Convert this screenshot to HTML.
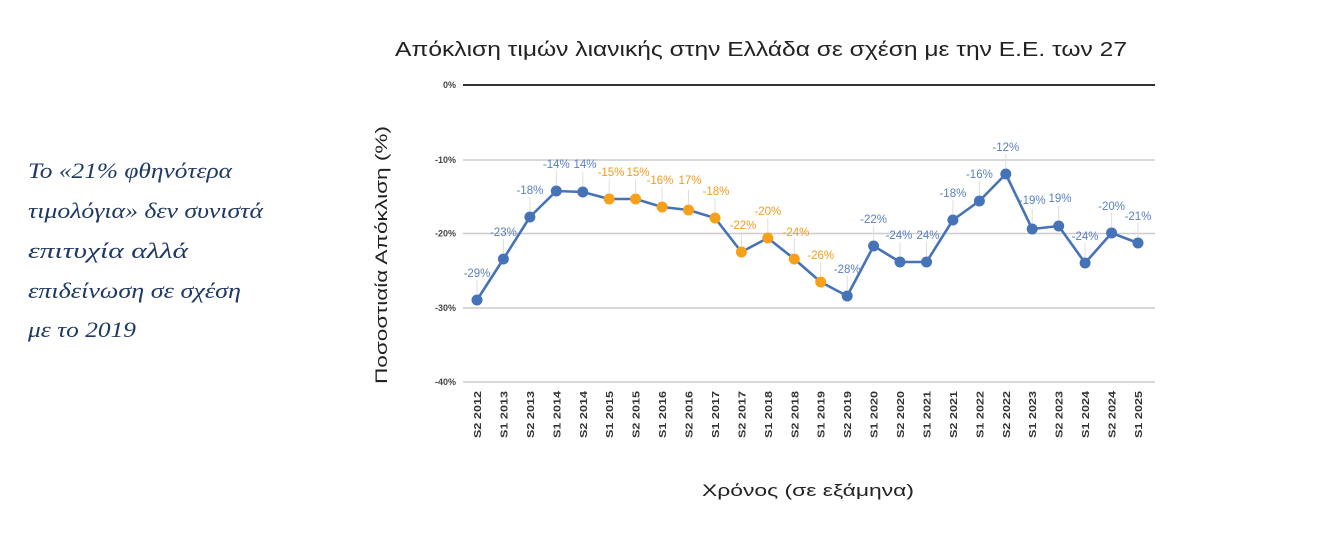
<!DOCTYPE html>
<html>
<head>
<meta charset="utf-8">
<style>
html,body{margin:0;padding:0;background:#fff;}
svg{display:block;}
</style>
</head>
<body>
<svg width="1320" height="534" viewBox="0 0 1320 534" xmlns="http://www.w3.org/2000/svg">
<rect width="1320" height="534" fill="#fff"/>

<!-- Left commentary text -->
<g font-family="'Liberation Serif','DejaVu Serif',serif" font-style="italic" font-size="22" fill="#1f3864">
  <text x="28" y="178" textLength="204" lengthAdjust="spacingAndGlyphs">Το «21% φθηνότερα</text>
  <text x="28" y="218" textLength="235" lengthAdjust="spacingAndGlyphs">τιμολόγια» δεν συνιστά</text>
  <text x="28" y="258" textLength="160" lengthAdjust="spacingAndGlyphs">επιτυχία αλλά</text>
  <text x="28" y="298" textLength="213" lengthAdjust="spacingAndGlyphs">επιδείνωση σε σχέση</text>
  <text x="28" y="337" textLength="108" lengthAdjust="spacingAndGlyphs">με το 2019</text>
</g>

<!-- Title -->
<text x="761" y="56" text-anchor="middle" font-family="'Liberation Sans','DejaVu Sans',sans-serif" font-size="20" fill="#222" textLength="732" lengthAdjust="spacingAndGlyphs">Απόκλιση τιμών λιανικής στην Ελλάδα σε σχέση με την Ε.Ε. των 27</text>

<!-- Gridlines -->
<g stroke="#cccccc" stroke-width="1.5">
  <line x1="463" y1="160" x2="1155" y2="160"/>
  <line x1="463" y1="233.5" x2="1155" y2="233.5"/>
  <line x1="463" y1="308" x2="1155" y2="308"/>
  <line x1="463" y1="382" x2="1155" y2="382"/>
</g>
<line x1="463" y1="85" x2="1155" y2="85" stroke="#333" stroke-width="2"/>

<!-- Y tick labels -->
<g font-family="'Liberation Sans','DejaVu Sans',sans-serif" font-size="9" fill="#444" text-anchor="end" font-weight="bold">
  <text x="456" y="88">0%</text>
  <text x="456" y="163">-10%</text>
  <text x="456" y="236.5">-20%</text>
  <text x="456" y="311">-30%</text>
  <text x="456" y="385">-40%</text>
</g>

<!-- Y axis title -->
<text transform="translate(387,255) rotate(-90)" text-anchor="middle" font-family="'Liberation Sans','DejaVu Sans',sans-serif" font-size="17" fill="#222" textLength="258" lengthAdjust="spacingAndGlyphs">Ποσοστιαία Απόκλιση (%)</text>

<!-- X axis title -->
<text x="808" y="496" text-anchor="middle" font-family="'Liberation Sans','DejaVu Sans',sans-serif" font-size="17" fill="#222" textLength="212" lengthAdjust="spacingAndGlyphs">Χρόνος (σε εξάμηνα)</text>

<!-- X tick labels (rotated) -->
<g font-family="'Liberation Sans','DejaVu Sans',sans-serif" font-size="10" fill="#333" font-weight="bold">
  <text transform="translate(481,438) rotate(-90)" textLength="47" lengthAdjust="spacingAndGlyphs">S2 2012</text>
  <text transform="translate(507.4,438) rotate(-90)" textLength="47" lengthAdjust="spacingAndGlyphs">S1 2013</text>
  <text transform="translate(533.9,438) rotate(-90)" textLength="47" lengthAdjust="spacingAndGlyphs">S2 2013</text>
  <text transform="translate(560.3,438) rotate(-90)" textLength="47" lengthAdjust="spacingAndGlyphs">S1 2014</text>
  <text transform="translate(586.8,438) rotate(-90)" textLength="47" lengthAdjust="spacingAndGlyphs">S2 2014</text>
  <text transform="translate(613.2,438) rotate(-90)" textLength="47" lengthAdjust="spacingAndGlyphs">S1 2015</text>
  <text transform="translate(639.6,438) rotate(-90)" textLength="47" lengthAdjust="spacingAndGlyphs">S2 2015</text>
  <text transform="translate(666.1,438) rotate(-90)" textLength="47" lengthAdjust="spacingAndGlyphs">S1 2016</text>
  <text transform="translate(692.5,438) rotate(-90)" textLength="47" lengthAdjust="spacingAndGlyphs">S2 2016</text>
  <text transform="translate(719,438) rotate(-90)" textLength="47" lengthAdjust="spacingAndGlyphs">S1 2017</text>
  <text transform="translate(745.4,438) rotate(-90)" textLength="47" lengthAdjust="spacingAndGlyphs">S2 2017</text>
  <text transform="translate(771.8,438) rotate(-90)" textLength="47" lengthAdjust="spacingAndGlyphs">S1 2018</text>
  <text transform="translate(798.3,438) rotate(-90)" textLength="47" lengthAdjust="spacingAndGlyphs">S2 2018</text>
  <text transform="translate(824.7,438) rotate(-90)" textLength="47" lengthAdjust="spacingAndGlyphs">S1 2019</text>
  <text transform="translate(851.2,438) rotate(-90)" textLength="47" lengthAdjust="spacingAndGlyphs">S2 2019</text>
  <text transform="translate(877.6,438) rotate(-90)" textLength="47" lengthAdjust="spacingAndGlyphs">S1 2020</text>
  <text transform="translate(904,438) rotate(-90)" textLength="47" lengthAdjust="spacingAndGlyphs">S2 2020</text>
  <text transform="translate(930.5,438) rotate(-90)" textLength="47" lengthAdjust="spacingAndGlyphs">S1 2021</text>
  <text transform="translate(956.9,438) rotate(-90)" textLength="47" lengthAdjust="spacingAndGlyphs">S2 2021</text>
  <text transform="translate(983.4,438) rotate(-90)" textLength="47" lengthAdjust="spacingAndGlyphs">S1 2022</text>
  <text transform="translate(1009.8,438) rotate(-90)" textLength="47" lengthAdjust="spacingAndGlyphs">S2 2022</text>
  <text transform="translate(1036.2,438) rotate(-90)" textLength="47" lengthAdjust="spacingAndGlyphs">S1 2023</text>
  <text transform="translate(1062.7,438) rotate(-90)" textLength="47" lengthAdjust="spacingAndGlyphs">S2 2023</text>
  <text transform="translate(1089.1,438) rotate(-90)" textLength="47" lengthAdjust="spacingAndGlyphs">S1 2024</text>
  <text transform="translate(1115.6,438) rotate(-90)" textLength="47" lengthAdjust="spacingAndGlyphs">S2 2024</text>
  <text transform="translate(1142,438) rotate(-90)" textLength="47" lengthAdjust="spacingAndGlyphs">S1 2025</text>
</g>

<!-- Leader lines -->
<g stroke="#dedede" stroke-width="1">
  <line x1="477" y1="280" x2="477" y2="294"/>
  <line x1="503.4" y1="239" x2="503.4" y2="253"/>
  <line x1="529.9" y1="197" x2="529.9" y2="211"/>
  <line x1="556.3" y1="171" x2="556.3" y2="185"/>
  <line x1="582.8" y1="172" x2="582.8" y2="186"/>
  <line x1="609.2" y1="179" x2="609.2" y2="193"/>
  <line x1="635.6" y1="179" x2="635.6" y2="193"/>
  <line x1="662.1" y1="187" x2="662.1" y2="201"/>
  <line x1="688.5" y1="190" x2="688.5" y2="204"/>
  <line x1="715" y1="198" x2="715" y2="212"/>
  <line x1="741.4" y1="232" x2="741.4" y2="246"/>
  <line x1="767.8" y1="218" x2="767.8" y2="232"/>
  <line x1="794.3" y1="239" x2="794.3" y2="253"/>
  <line x1="820.7" y1="262" x2="820.7" y2="276"/>
  <line x1="847.2" y1="276" x2="847.2" y2="290"/>
  <line x1="873.6" y1="226" x2="873.6" y2="240"/>
  <line x1="900" y1="242" x2="900" y2="256"/>
  <line x1="926.5" y1="242" x2="926.5" y2="256"/>
  <line x1="952.9" y1="200" x2="952.9" y2="214"/>
  <line x1="979.4" y1="181" x2="979.4" y2="195"/>
  <line x1="1005.8" y1="154" x2="1005.8" y2="168"/>
  <line x1="1032.2" y1="209" x2="1032.2" y2="223"/>
  <line x1="1058.7" y1="206" x2="1058.7" y2="220"/>
  <line x1="1085.1" y1="243" x2="1085.1" y2="257"/>
  <line x1="1111.6" y1="213" x2="1111.6" y2="227"/>
  <line x1="1138" y1="223" x2="1138" y2="237"/>
</g>

<!-- Series line -->
<polyline fill="none" stroke="#4672b8" stroke-width="2.6" stroke-linejoin="round"
  points="477,300 503.4,259 529.9,217 556.3,191 582.8,192 609.2,199 635.6,199 662.1,207 688.5,210 715,218 741.4,252 767.8,238 794.3,259 820.7,282 847.2,296 873.6,246 900,262 926.5,262 952.9,220 979.4,201 1005.8,174 1032.2,229 1058.7,226 1085.1,263 1111.6,233 1138,243"/>

<!-- Points -->
<g fill="#4672b8">
  <circle cx="477" cy="300" r="5.5"/>
  <circle cx="503.4" cy="259" r="5.5"/>
  <circle cx="529.9" cy="217" r="5.5"/>
  <circle cx="556.3" cy="191" r="5.5"/>
  <circle cx="582.8" cy="192" r="5.5"/>
  <circle cx="847.2" cy="296" r="5.5"/>
  <circle cx="873.6" cy="246" r="5.5"/>
  <circle cx="900" cy="262" r="5.5"/>
  <circle cx="926.5" cy="262" r="5.5"/>
  <circle cx="952.9" cy="220" r="5.5"/>
  <circle cx="979.4" cy="201" r="5.5"/>
  <circle cx="1005.8" cy="174" r="5.5"/>
  <circle cx="1032.2" cy="229" r="5.5"/>
  <circle cx="1058.7" cy="226" r="5.5"/>
  <circle cx="1085.1" cy="263" r="5.5"/>
  <circle cx="1111.6" cy="233" r="5.5"/>
  <circle cx="1138" cy="243" r="5.5"/>
</g>
<g fill="#f7a01a">
  <circle cx="609.2" cy="199" r="5.5"/>
  <circle cx="635.6" cy="199" r="5.5"/>
  <circle cx="662.1" cy="207" r="5.5"/>
  <circle cx="688.5" cy="210" r="5.5"/>
  <circle cx="715" cy="218" r="5.5"/>
  <circle cx="741.4" cy="252" r="5.5"/>
  <circle cx="767.8" cy="238" r="5.5"/>
  <circle cx="794.3" cy="259" r="5.5"/>
  <circle cx="820.7" cy="282" r="5.5"/>
</g>

<!-- Data labels -->
<g font-family="'Liberation Sans','DejaVu Sans',sans-serif" font-size="11.5" text-anchor="middle">
  <g fill="#5a80bf">
    <text x="477" y="277">-29%</text>
    <text x="503.4" y="236">-23%</text>
    <text x="529.9" y="194">-18%</text>
    <text x="556.3" y="168">-14%</text>
    <text x="585" y="168">14%</text>
    <text x="847.2" y="273">-28%</text>
    <text x="873.6" y="223">-22%</text>
    <text x="899" y="239">-24%</text>
    <text x="928" y="239">24%</text>
    <text x="952.9" y="197">-18%</text>
    <text x="979.4" y="178">-16%</text>
    <text x="1005.8" y="151">-12%</text>
    <text x="1032.2" y="204">-19%</text>
    <text x="1060" y="202">19%</text>
    <text x="1085.1" y="240">-24%</text>
    <text x="1111.6" y="210">-20%</text>
    <text x="1138" y="220">-21%</text>
  </g>
  <g fill="#f59a1f">
    <text x="611" y="176">-15%</text>
    <text x="638" y="176">15%</text>
    <text x="660" y="184">-16%</text>
    <text x="690" y="184">17%</text>
    <text x="716" y="195">-18%</text>
    <text x="743" y="229">-22%</text>
    <text x="767.8" y="215">-20%</text>
    <text x="796" y="236">-24%</text>
    <text x="820.7" y="259">-26%</text>
  </g>
</g>
</svg>
</body>
</html>
